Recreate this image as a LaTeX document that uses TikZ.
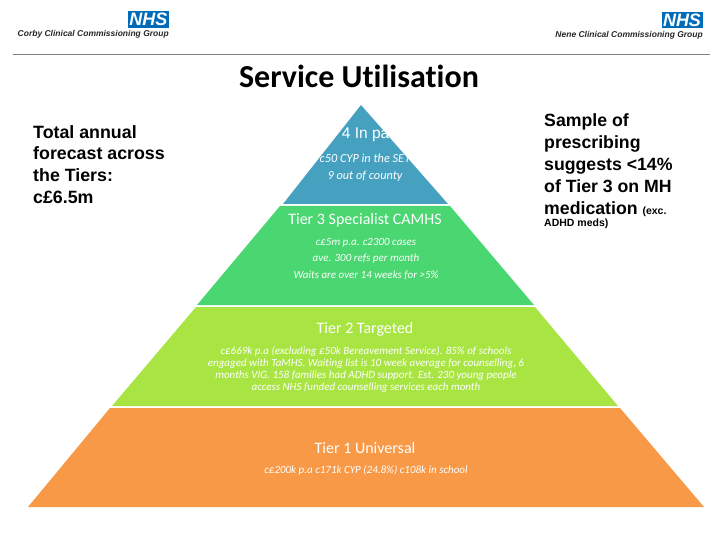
\documentclass[tikz,border=0pt]{standalone}
\usepackage{fontspec}
\setmainfont[Ligatures=NoCommon]{Carlito}
\newfontfamily\arialfont{Liberation Sans}
\usetikzlibrary{arrows,shapes}
\tikzset{
  tiertitle/.style={text=white,font=\fontsize{16}{18}\selectfont,inner sep=0pt},
  tiernote/.style={text=white,font=\fontsize{11}{12}\selectfont\itshape,inner sep=0pt,align=center},
  sidenote/.style={text=black,font=\arialfont\bfseries\fontsize{17.8}{21.7}\selectfont,inner sep=0pt,align=left,anchor=north west},
  nhsbox/.style={fill=cnhs,text=white,font=\arialfont\bfseries\itshape\fontsize{18}{18}\selectfont,inner sep=0pt,minimum width=41pt,minimum height=16.5pt,text height=13pt,text depth=0pt},
  ccglabel/.style={text=black!85,font=\arialfont\bfseries\itshape\fontsize{8.5}{10}\selectfont,inner sep=0pt,anchor=east},
}
\begin{document}
\begin{tikzpicture}[x=1pt,y=-1pt]
%
\useasboundingbox (0,0) rectangle (720,540);
%
\definecolor{cnhs}{rgb}{0.0,0.42,0.72}
\definecolor{cline}{rgb}{0.5,0.5,0.5}
\definecolor{ct4}{rgb}{0.27,0.63,0.75}
\definecolor{ct3}{rgb}{0.29,0.84,0.44}
\definecolor{ct2}{rgb}{0.66,0.90,0.26}
\definecolor{ct1}{rgb}{0.97,0.60,0.28}
%
\fill[ct4] (361,105) -- (448,204) -- (283,204) -- cycle;
\fill[ct3] (280,206) -- (450,206) -- (534,305) -- (197,305) -- cycle;
\fill[ct2] (196,307) -- (535,307) -- (618,406) -- (112,406) -- cycle;
\fill[ct1] (110,408) -- (620,408) -- (704,507) -- (28,507) -- cycle;
%
\node[nhsbox] (nhsl) at (148.5,19.5) {NHS};
\node[ccglabel] (ccgl) at (169,34) {Corby Clinical Commissioning Group};
\node[nhsbox] (nhsr) at (682,20) {NHS};
\node[ccglabel] (ccgr) at (703,35) {Nene Clinical Commissioning Group};
\draw[cline,line width=0.8pt] (13,54) -- (710,54);
%
\node[inner sep=0pt,font=\bfseries\fontsize{32}{34}\selectfont] (title) at (359,76) {Service Utilisation};
%
\node[sidenote] (total) at (33,125) {Total annual\\forecast across\\the Tiers:\\c£6.5m};
\node[sidenote,font=\arialfont\bfseries\fontsize{17.7}{22}\selectfont] (sample) at (544,113) {Sample of\\prescribing\\suggests <14\%\\of Tier 3 on MH\\medication {\fontsize{10.5}{13}\selectfont (exc.}\\[-10pt]{\fontsize{10.5}{13}\selectfont ADHD meds)}};
%
\node[tiertitle,font=\arialfont\fontsize{15.5}{17}\selectfont] (t4) at (365,134) {Tier 4 In patient};
\node[tiernote,font=\fontsize{12.3}{13}\selectfont\itshape] (t4a) at (365,158) {c50 CYP in the SET};
\node[tiernote,font=\fontsize{12.3}{13}\selectfont\itshape] (t4b) at (365,176) {9 out of county};
%
\node[tiertitle] (t3) at (365,220) {Tier 3 Specialist CAMHS};
\node[tiernote] (t3a) at (366,243) {c£5m p.a. c2300 cases};
\node[tiernote] (t3b) at (366,259) {ave. 300 refs per month};
\node[tiernote] (t3c) at (366,275) {Waits are over 14 weeks for >5\%};
%
\node[tiertitle] (t2) at (365,329) {Tier 2 Targeted};
\node[tiernote] (t2a) at (366,369) {c£669k p.a (excluding £50k Bereavement Service). 85\% of schools\\engaged with TaMHS. Waiting list is 10 week average for counselling, 6\\months VIG. 158 families had ADHD support. Est. 230 young people\\access NHS funded counselling services each month};
%
\node[tiertitle] (t1) at (365,448) {Tier 1 Universal};
\node[tiernote] (t1a) at (366,470) {c£200k p.a c171k CYP (24.8\%) c108k in school};
%
\end{tikzpicture}
\end{document}
